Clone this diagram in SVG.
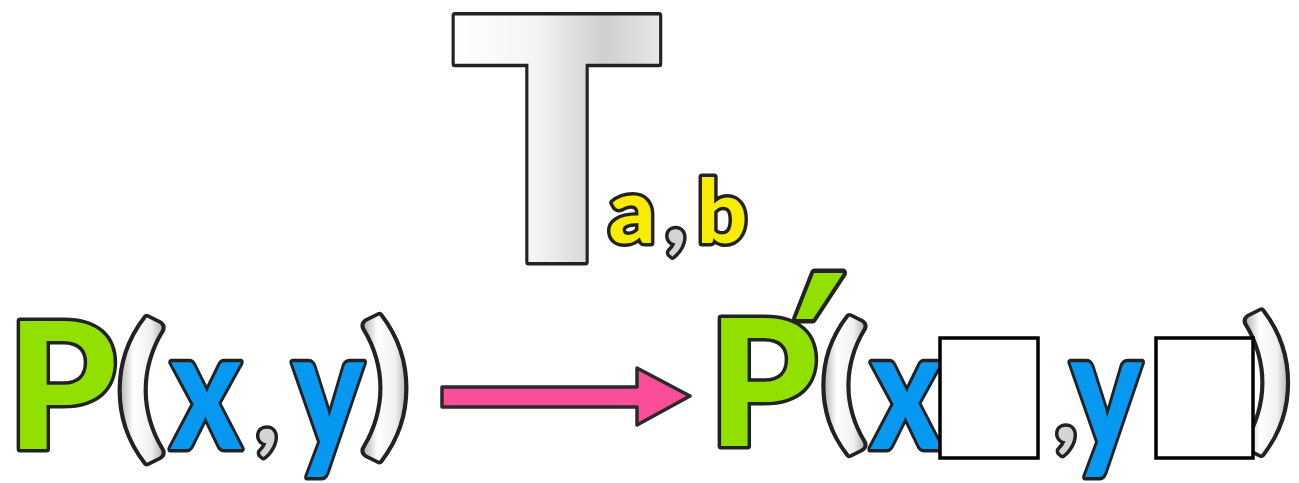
<svg xmlns="http://www.w3.org/2000/svg" width="1299" height="483" viewBox="0 0 1299 483">
<defs>
<linearGradient id="gT" x1="0" y1="0" x2="1" y2="0">
<stop offset="0" stop-color="#ffffff"/>
<stop offset="0.4" stop-color="#f4f4f4"/>
<stop offset="0.72" stop-color="#cfcfcf"/>
<stop offset="1" stop-color="#e8e8e8"/>
</linearGradient>
<linearGradient id="gP" x1="0" y1="0" x2="1" y2="0">
<stop offset="0" stop-color="#9a9a9a"/>
<stop offset="0.35" stop-color="#ffffff"/>
<stop offset="0.7" stop-color="#f0f0f0"/>
<stop offset="1" stop-color="#a0a0a0"/>
</linearGradient>
<style>
.t{font-family:Lato,"Liberation Sans",sans-serif;font-weight:900;text-anchor:middle;stroke:#222;stroke-width:7;stroke-linejoin:round;paint-order:stroke fill}
.dv{font-family:"DejaVu Sans",sans-serif;font-weight:700}
.g{fill:#92e000}
.b{fill:#0798f2}
.yl{fill:#f8ec00}
.c{fill:#d4d4d4}
.p{fill:url(#gP)}
.box{fill:#fff;stroke:#000;stroke-width:3.5}
</style>
</defs>
<rect width="1299" height="483" fill="#fff"/>
<g id="title">
<text class="t dv" transform="translate(557 262) scale(0.9 1)" x="0" y="0" font-size="338" fill="url(#gT)">T</text>
<text class="t yl" x="632" y="243" font-size="92">a</text>
<text class="t c" x="676" y="243" font-size="92">,</text>
<text class="t yl" x="722" y="243" font-size="88">b</text>
</g>
<g id="source">
<text class="t g" x="62" y="449" font-size="176">P</text>
<text class="t p" transform="translate(141 438) scale(1.2 1)" x="0" y="0" font-size="152">(</text>
<text class="t b" transform="translate(206 449) scale(0.8 1)" x="0" y="0" font-size="168">x</text>
<text class="t c" x="267" y="443" font-size="95">,</text>
<text class="t b" transform="translate(328 449) scale(0.8 1)" x="0" y="0" font-size="168">y</text>
<text class="t p" transform="translate(385 436) scale(1.2 1)" x="0" y="0" font-size="152">)</text>
</g>
<g id="connectors">
<path d="M442,387 L637,387 L637,368 L690,396 L637,425 L637,407 L442,407 Z" fill="#fa4f98" stroke="#2a2a2a" stroke-width="3.5" stroke-linejoin="round"/>
</g>
<g id="image">
<text class="t g" x="763" y="446" font-size="176">P</text>
<text class="t g dv" transform="translate(820 458) scale(1.1 1.3)" x="0" y="0" font-size="195">′</text>
<text class="t p" transform="translate(844 431) scale(1.2 1)" x="0" y="0" font-size="145">(</text>
<text class="t b" transform="translate(906 449) scale(0.8 1)" x="0" y="0" font-size="168">x</text>
<rect class="box" x="940" y="338" width="98" height="120"/>
<text class="t c" x="1066" y="441" font-size="95">,</text>
<text class="t b" transform="translate(1106 449) scale(0.8 1)" x="0" y="0" font-size="168">y</text>
<text class="t p" transform="translate(1267 430) scale(1.2 1)" x="0" y="0" font-size="150">)</text>
<rect class="box" x="1156" y="338" width="97" height="120"/>
</g>
</svg>
